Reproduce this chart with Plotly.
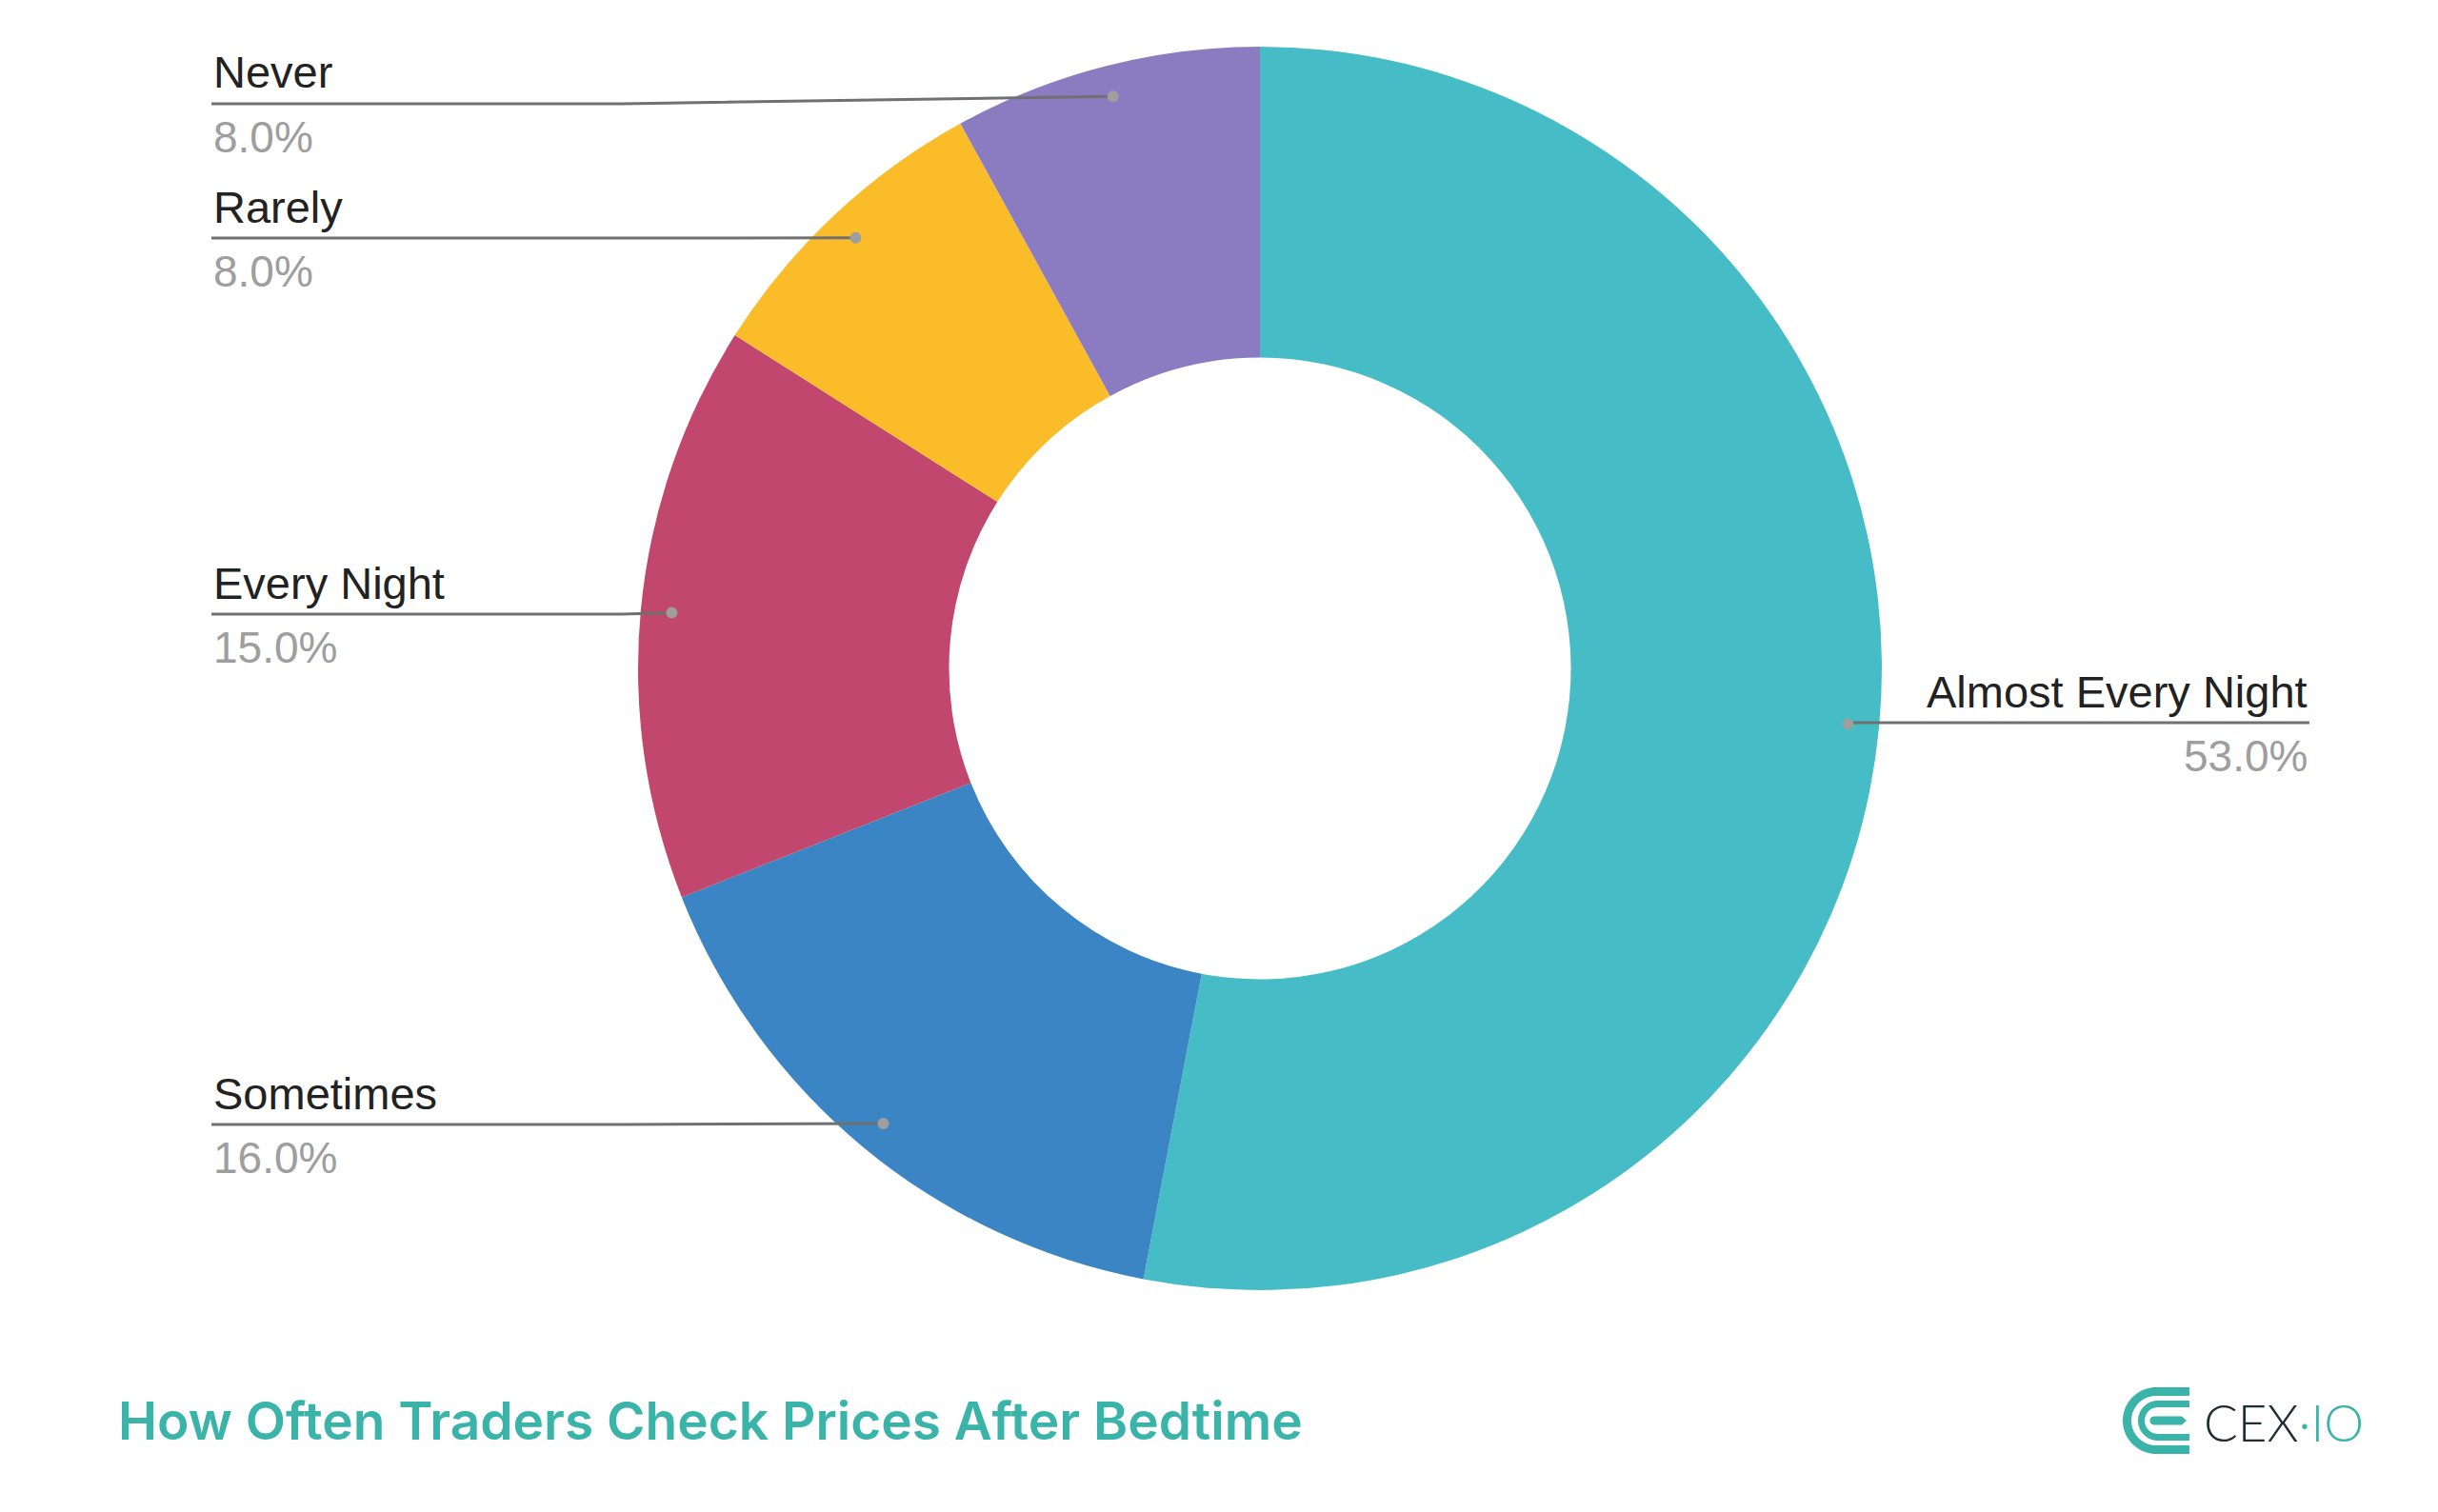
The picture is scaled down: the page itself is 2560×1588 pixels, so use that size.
import math
import plotly.graph_objects as go

# ---------------- data ----------------
categories = ["Almost Every Night", "Sometimes", "Every Night", "Rarely", "Never"]
values = [53.0, 16.0, 15.0, 8.0, 8.0]
colors = ["#46BDC6", "#3C85C5", "#C2476E", "#FBBC2A", "#8B7BC1"]
title_text = "How Often Traders Check Prices After Bedtime"

# ---------------- layout constants (pixels) ----------------
W, H = 2560, 1588
CX, CY, R = 1323, 702, 653
HOLE = 0.5
DOT_R_FRAC = 0.95
label_side = ["right", "left", "left", "left", "left"]
label_line_y = [759, 1181, 645, 250, 109]
LEFT_X, RIGHT_X = 222, 2425
KINK_LEFT_X = 653
TEXT_DY = 33
LINE_COLOR = "#707070"
DOT_COLOR = "#9E9E9E"
TEAL = "#3AB4A8"


def px(x):
    return x / W


def py(y):
    return 1 - y / H


fig = go.Figure()
fig.add_trace(go.Pie(
    labels=categories,
    values=values,
    marker=dict(colors=colors, line=dict(width=0)),
    hole=HOLE,
    sort=False,
    direction="clockwise",
    rotation=0,
    textinfo="none",
    hoverinfo="label+percent",
    showlegend=False,
    domain=dict(x=[px(CX - R), px(CX + R)], y=[py(CY + R), py(CY - R)]),
))

shapes = []
annotations = []

total = sum(values)
cum = 0.0
for cat, val, side, ly in zip(categories, values, label_side, label_line_y):
    mid = (cum + val / 2) / total
    cum += val
    ang = 2 * math.pi * mid
    dx = CX + DOT_R_FRAC * R * math.sin(ang)
    dy = CY - DOT_R_FRAC * R * math.cos(ang)
    if side == "left":
        x_end = LEFT_X
        kx = min(KINK_LEFT_X, dx)
        anchor = "left"
    else:
        x_end = RIGHT_X
        kx = dx
        anchor = "right"
    path = f"M {px(x_end)},{py(ly)} L {px(kx)},{py(ly)} L {px(dx)},{py(dy)}"
    shapes.append(dict(type="path", xref="paper", yref="paper", path=path,
                       line=dict(color=LINE_COLOR, width=3), layer="above"))
    rr = 6
    shapes.append(dict(type="circle", xref="paper", yref="paper",
                       x0=px(dx - rr), x1=px(dx + rr), y0=py(dy + rr), y1=py(dy - rr),
                       fillcolor=DOT_COLOR, line=dict(width=0), layer="above"))
    pct = f"{val / total * 100:.1f}%"
    annotations.append(dict(x=px(x_end), y=py(ly - TEXT_DY), xref="paper", yref="paper",
                            text=cat, showarrow=False, xanchor=anchor, yanchor="middle",
                            font=dict(family="Liberation Sans, Arial", size=47, color="#222222")))
    annotations.append(dict(x=px(x_end), y=py(ly + TEXT_DY + 2), xref="paper", yref="paper",
                            text=pct, showarrow=False, xanchor=anchor, yanchor="middle",
                            font=dict(family="Liberation Sans, Arial", size=46, color="#9E9E9E")))

# title
annotations.append(dict(x=px(122), y=py(1492), xref="paper", yref="paper",
                        text=title_text, showarrow=False, xanchor="left", yanchor="middle",
                        font=dict(family="Inter, Roboto", size=55, color=TEAL, weight=600)))

# logo text
annotations.append(dict(x=px(2312), y=py(1493), xref="paper", yref="paper",
                        text="<span style='color:#1D2D35'>CEX</span><span style='color:#3AB4A8'>·IO</span>",
                        showarrow=False, xanchor="left", yanchor="middle",
                        font=dict(family="Lato, Open Sans", size=53, color="#1D2D35", weight=300)))


# logo icon (decoration) built as polygons
def arc_pts(cx, cy, r, a0, a1, n=40):
    pts = []
    for i in range(n + 1):
        a = math.radians(a0 + (a1 - a0) * i / n)
        pts.append((cx + r * math.cos(a), cy - r * math.sin(a)))
    return pts


def c_shape(cx, cy, ro, ri, xr):
    pts = [(xr, cy - ro)]
    pts += arc_pts(cx, cy, ro, 90, 270)
    pts += [(xr, cy + ro), (xr, cy + ri)]
    pts += arc_pts(cx, cy, ri, 270, 90)
    pts += [(xr, cy - ri)]
    return pts


def poly_path(pts):
    s = "M " + " L ".join(f"{px(x)},{py(y)}" for x, y in pts) + " Z"
    return s


ICX, ICY = 2264, 1492
for pts in [
    c_shape(ICX, ICY, 35, 26, 2299),
    c_shape(ICX + 2, ICY, 21, 14, 2299),
    [(2262, ICY - 4.5), (2291, ICY - 4.5), (2296, ICY), (2291, ICY + 4.5), (2262, ICY + 4.5)]
    + arc_pts(2262, ICY, 4.5, 270, 90, 12),
]:
    shapes.append(dict(type="path", xref="paper", yref="paper", path=poly_path(pts),
                       fillcolor=TEAL, line=dict(width=0), layer="above"))

fig.update_layout(
    width=W, height=H,
    margin=dict(l=0, r=0, t=0, b=0),
    paper_bgcolor="white", plot_bgcolor="white",
    shapes=shapes, annotations=annotations,
    showlegend=False,
)

fig.write_html("out.html", config={"displayModeBar": False},
               post_script="document.body.style.margin='0';document.body.style.overflow='hidden';")
